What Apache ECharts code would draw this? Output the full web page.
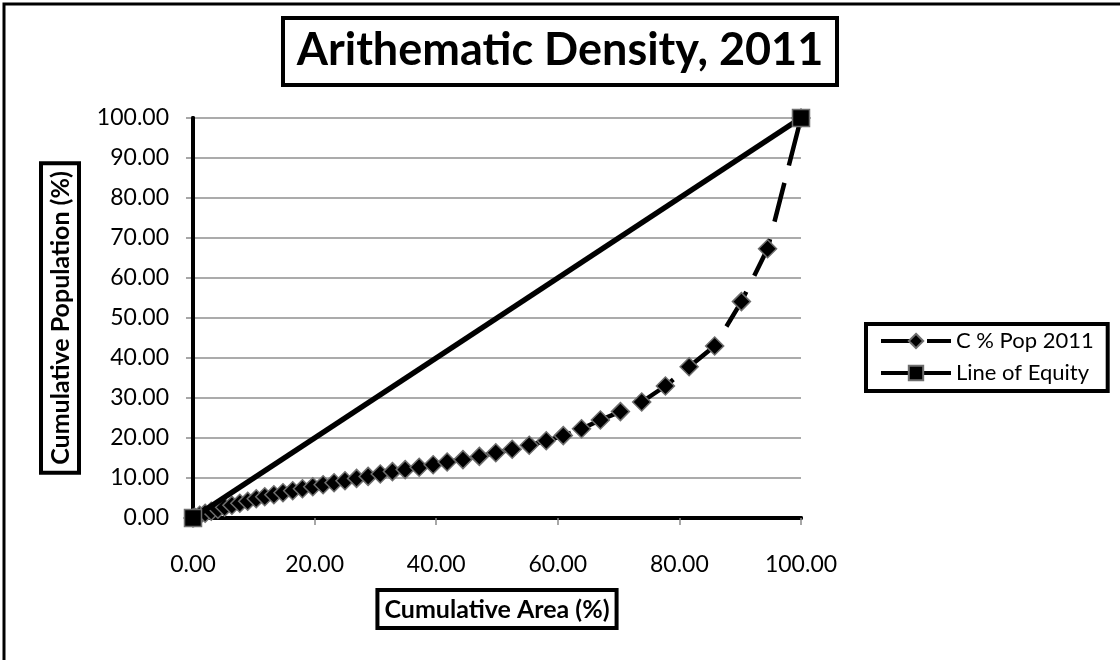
<!DOCTYPE html>
<html>
<head>
<meta charset="utf-8">
<title>Arithematic Density, 2011</title>
<script src="https://cdn.jsdelivr.net/npm/echarts@6/dist/echarts.min.js"></script>
<style>
  html, body { margin: 0; padding: 0; background: #fff; }
  #chart { width: 1120px; height: 660px; }
</style>
</head>
<body>
<div id="chart"></div>
<script>
// Cumulative area (%) and cumulative population (%) for the Lorenz curve
const cumArea = [0, 0.3, 1.1, 2.0, 3.0, 4.1, 5.2, 6.4, 7.7, 9.0,
  10.4, 11.8, 13.3, 14.8, 16.4, 18.0, 19.7, 21.4, 23.2, 25.0,
  26.9, 28.8, 30.8, 32.8, 34.9, 37.2, 39.5, 41.8, 44.4, 47.1,
  49.8, 52.5, 55.3, 58.1, 60.9, 63.9, 67.0, 70.3, 73.8, 77.7,
  81.6, 85.8, 90.2, 94.5, 100];
const cumPop2011 = [0, 0.2, 0.7, 1.2, 1.7, 2.2, 2.7, 3.2, 3.7, 4.2,
  4.8, 5.3, 5.8, 6.3, 6.8, 7.3, 7.8, 8.3, 8.8, 9.3,
  9.9, 10.4, 11.0, 11.6, 12.1, 12.7, 13.3, 14.0, 14.6, 15.4,
  16.3, 17.2, 18.2, 19.3, 20.6, 22.3, 24.5, 26.6, 29.0, 33.0,
  37.8, 43.0, 54.1, 67.3, 100];

// Line of equity: perfectly even distribution
const equityArea = [0, 100];
const equityPop = [0, 100];

const seriesNames = ['C % Pop 2011', 'Line of Equity'];
const xTicks = [0, 20, 40, 60, 80, 100];
const yTicks = [0, 10, 20, 30, 40, 50, 60, 70, 80, 90, 100];

const FONT = 'Lato, "Open Sans", "Liberation Sans", sans-serif';
const zip = (xs, ys) => xs.map((x, i) => [x, ys[i]]);
const fmt = v => Number(v).toFixed(2);

const popLine = { color: '#000', width: 4.5, type: [40, 18] };
const equityLine = { color: '#000', width: 5.5 };
const markerStyle = { color: '#000', borderColor: '#6e6e6e', borderWidth: 1.5 };

const chart = echarts.init(document.getElementById('chart'), null, { renderer: 'canvas' });

const borderAxis = { show: true, lineStyle: { color: '#000', width: 4 } };
const hidden = { show: false };

chart.setOption({
  backgroundColor: '#fff',
  animation: false,
  textStyle: { fontFamily: FONT, color: '#000' },
  title: {
    text: 'Arithematic Density, 2011',
    left: 'center',
    top: 18,
    padding: [10, 14, 12, 14],
    borderColor: '#000',
    borderWidth: 4,
    textStyle: { fontFamily: FONT, fontSize: 45, fontWeight: 'bold', color: '#000' }
  },
  legend: {
    data: [
      { name: seriesNames[0], lineStyle: { width: 4, type: [34, 12] } },
      { name: seriesNames[1], lineStyle: { width: 4 } }
    ],
    orient: 'vertical',
    left: 866,
    top: 324,
    padding: [6, 14, 7, 13],
    itemGap: 10,
    itemWidth: 70,
    itemHeight: 18,
    borderColor: '#000',
    borderWidth: 4,
    textStyle: { fontFamily: FONT, fontSize: 22, color: '#000' }
  },
  grid: { left: 193, right: 319, top: 118, bottom: 142 },
  xAxis: [{
    type: 'value',
    min: xTicks[0],
    max: xTicks[xTicks.length - 1],
    interval: xTicks[1] - xTicks[0],
    z: 2,
    axisLine: borderAxis,
    axisTick: { show: true, length: 7, lineStyle: { color: '#8a8a8a', width: 1.5 } },
    axisLabel: { margin: 35, formatter: fmt, fontFamily: FONT, fontSize: 23, color: '#000' },
    splitLine: hidden,
    name: 'Cumulative Area (%)',
    nameLocation: 'middle',
    nameGap: 72,
    nameTextStyle: {
      fontFamily: FONT, fontSize: 25, fontWeight: 'bold', color: '#000',
      borderColor: '#000', borderWidth: 4, padding: [7, 7, 6, 7]
    }
  }, {
    type: 'value', position: 'top', min: 0, max: 100, z: 2,
    axisLine: borderAxis, axisTick: hidden, axisLabel: hidden, splitLine: hidden
  }],
  yAxis: [{
    type: 'value',
    min: yTicks[0],
    max: yTicks[yTicks.length - 1],
    interval: yTicks[1] - yTicks[0],
    z: 1,
    axisLine: borderAxis,
    axisTick: { show: true, length: 7, lineStyle: { color: '#8a8a8a', width: 1.5 } },
    axisLabel: { margin: 24, formatter: fmt, fontFamily: FONT, fontSize: 23, color: '#000' },
    splitLine: { show: true, lineStyle: { color: '#8f8f8f', width: 1.5 } },
    name: 'Cumulative Population (%)',
    nameLocation: 'middle',
    nameGap: 114,
    nameTextStyle: {
      fontFamily: FONT, fontSize: 25, fontWeight: 'bold', color: '#000',
      borderColor: '#000', borderWidth: 4, padding: [7, 8, 6, 8]
    }
  }, {
    type: 'value', position: 'right', min: 0, max: 100, z: 2,
    axisLine: borderAxis, axisTick: hidden, axisLabel: hidden, splitLine: hidden
  }],
  graphic: [{
    type: 'rect',
    z: 100,
    silent: true,
    shape: { x: 4, y: 4, width: 1400, height: 900 },
    style: { fill: 'none', stroke: '#000', lineWidth: 3 }
  }],
  series: [{
    name: seriesNames[0],
    type: 'line',
    z: 5,
    data: zip(cumArea, cumPop2011),
    symbol: 'diamond',
    symbolSize: 18,
    lineStyle: popLine,
    itemStyle: markerStyle
  }, {
    name: seriesNames[1],
    type: 'line',
    z: 6,
    data: zip(equityArea, equityPop),
    symbol: 'rect',
    symbolSize: 17,
    lineStyle: equityLine,
    itemStyle: markerStyle
  }]
});
</script>
</body>
</html>
